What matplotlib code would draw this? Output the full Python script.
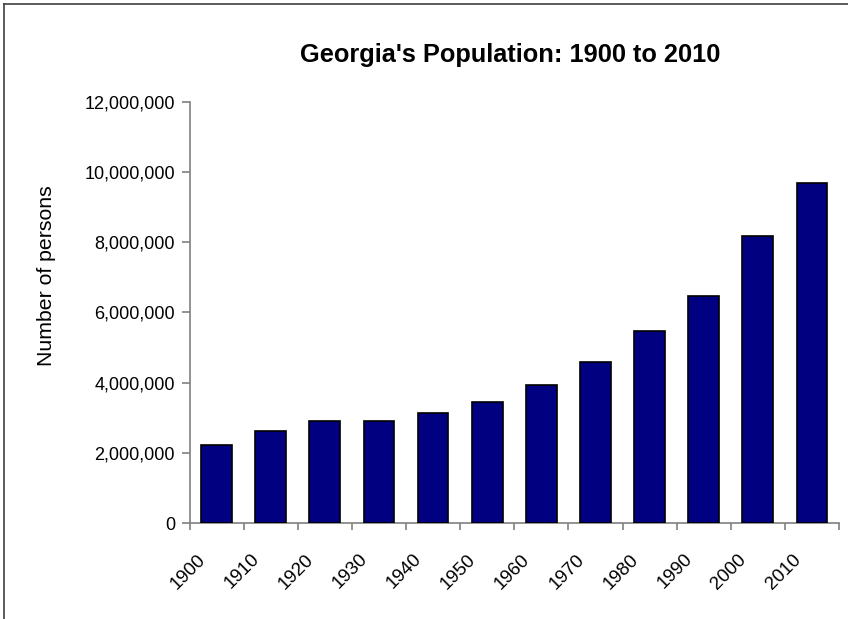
import matplotlib
matplotlib.use("Agg")
import matplotlib.pyplot as plt
from matplotlib.lines import Line2D
from matplotlib.ticker import FuncFormatter, FixedLocator
import matplotlib.transforms as mtransforms

plt.rcParams['font.family'] = ['Liberation Sans', 'DejaVu Sans']

years = ['1900', '1910', '1920', '1930', '1940', '1950', '1960', '1970', '1980', '1990', '2000', '2010']
population = [2216331, 2609121, 2895832, 2908506, 3123723, 3444578, 3943116, 4589575, 5463105, 6478216, 8186453, 9687653]
yticks = [0, 2000000, 4000000, 6000000, 8000000, 10000000, 12000000]

W, H = 848, 619
fig = plt.figure(figsize=(W/100, H/100), dpi=100)
ax = fig.add_axes([189.5/W, 1 - 523/H, (839 - 189.5)/W, (523 - 101.7)/H])

x = list(range(len(years)))
ax.bar(x, population, width=0.57, color='#000080', edgecolor='black', linewidth=1.2, zorder=3)

ax.set_xlim(-0.5, len(years) - 0.5)
ax.set_ylim(0, 12000000)
ax.yaxis.set_major_locator(FixedLocator(yticks))
ax.yaxis.set_major_formatter(FuncFormatter(lambda v, p: f"{int(v):,}"))

for s in ['top', 'right']:
    ax.spines[s].set_visible(False)
for s in ['left', 'bottom']:
    ax.spines[s].set_color('#808080')
    ax.spines[s].set_linewidth(1.2)

ax.set_xticks([i - 0.5 for i in range(len(years) + 1)])
ax.set_xticklabels([])
ax.tick_params(axis='x', direction='out', length=5, width=1.2, color='#808080')
ax.tick_params(axis='y', direction='out', length=6, width=1.2, color='#808080',
               labelsize=13, pad=4.5)

trans = mtransforms.blended_transform_factory(ax.transData, ax.transAxes)
for i, lab in enumerate(years):
    ax.text(i - 0.53, -0.066, lab, rotation=45, ha='center', va='top',
            fontsize=13.5, transform=trans)

fig.text(510/W, 1 - 62/H, "Georgia's Population: 1900 to 2010", ha='center', va='baseline',
         fontsize=18.3, fontweight='bold')
fig.text(47/W, 1 - 276/H, "Number of persons", rotation=90, ha='center', va='center',
         fontsize=15.3)

fig.add_artist(Line2D([4/W, 4/W], [0, 1 - 4/H], color='#404040', linewidth=1.2, transform=fig.transFigure))
fig.add_artist(Line2D([4/W, 1], [1 - 4/H, 1 - 4/H], color='#404040', linewidth=1.2, transform=fig.transFigure))

fig.savefig('out.png', dpi=100)
